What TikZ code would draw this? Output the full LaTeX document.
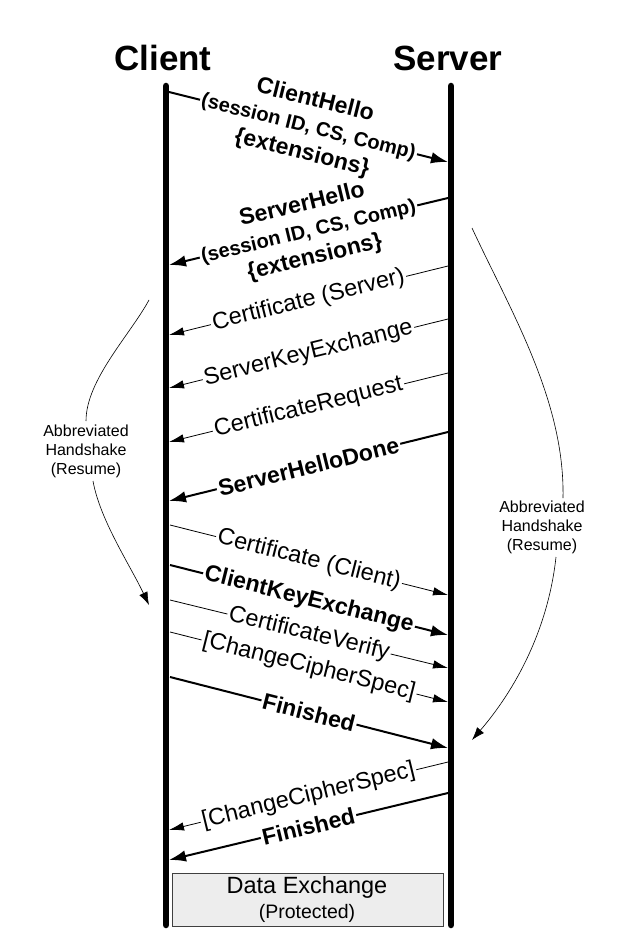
\documentclass[tikz,border=0pt]{standalone}
\usepackage{fontspec}
\setmainfont{Liberation Sans}
\usetikzlibrary{arrows.meta}
\pgfdeclarelayer{lines}
\pgfdeclarelayer{boxes}
\pgfsetlayers{lines,boxes,main}
\newcommand{\midline}[1]{{\fontsize{20}{26.5}\selectfont #1}}
\begin{document}
\begin{tikzpicture}[x=1pt,y=-1pt,
  life/.style={line width=6.5pt,line cap=round},
  thinmsg/.style={line width=0.8pt,-{Latex[length=15pt,width=8.5pt]}},
  boldmsg/.style={line width=2pt,-{Latex[length=17pt,width=11.5pt]}},
  lbl/.style={sloped,midway,inner sep=1.5pt,align=center,font=\fontsize{23.5}{27}\selectfont},
  blbl/.style={sloped,midway,inner sep=1.5pt,align=center,font=\fontsize{23}{27}\selectfont\bfseries},
  note/.style={align=center,inner sep=1pt,font=\fontsize{16}{19}\selectfont},
  curveline/.style={line width=0.6pt},
  curvearrow/.style={line width=0.6pt,-{Latex[length=13pt,width=9pt]}},
  title/.style={font=\fontsize{35}{40}\selectfont\bfseries},
]
\useasboundingbox (0,0) rectangle (628,949);

% lifeline ends
\coordinate (ctop) at (166,86);
\coordinate (cbot) at (166,925);
\coordinate (stop) at (451,86);
\coordinate (sbot) at (451,925);

% message end points
\coordinate (c1) at (169,92);   \coordinate (s1) at (448,162);
\coordinate (s2) at (448,198);  \coordinate (c2) at (169,265);
\coordinate (s3) at (448,266);  \coordinate (c3) at (169,335);
\coordinate (s4) at (448,319);  \coordinate (c4) at (169,388);
\coordinate (s5) at (448,373);  \coordinate (c5) at (169,442);
\coordinate (s6) at (448,432);  \coordinate (c6) at (169,501);
\coordinate (c7) at (170,525);  \coordinate (s7) at (448,595);
\coordinate (c8) at (170,565);  \coordinate (s8) at (448,635);
\coordinate (c9) at (170,600);  \coordinate (s9) at (448,668);
\coordinate (c10) at (170,632); \coordinate (s10) at (448,702);
\coordinate (c11) at (170,677); \coordinate (s11) at (448,748);
\coordinate (s12) at (448,762); \coordinate (c12) at (169,830);
\coordinate (s13) at (448,793); \coordinate (c13) at (169,860);

% message labels (text)
\path (c1) -- node[blbl] (m1) {ClientHello\\\midline{(session ID, CS, Comp)}\\\{extensions\}} (s1);
\path (s2) -- node[blbl] (m2) {ServerHello\\\midline{(session ID, CS, Comp)}\\\{extensions\}} (c2);
\path (s3) -- node[lbl] (m3) {Certificate (Server)} (c3);
\path (s4) -- node[lbl] (m4) {ServerKeyExchange} (c4);
\path (s5) -- node[lbl] (m5) {CertificateRequest} (c5);
\path (s6) -- node[blbl] (m6) {ServerHelloDone} (c6);
\path (c7) -- node[lbl] (m7) {Certificate (Client)} (s7);
\path (c8) -- node[blbl] (m8) {ClientKeyExchange} (s8);
\path (c9) -- node[lbl] (m9) {CertificateVerify} (s9);
\path (c10) -- node[lbl] (m10) {[ChangeCipherSpec]} (s10);
\path (c11) -- node[blbl] (m11) {Finished} (s11);
\path (s12) -- node[lbl] (m12) {[ChangeCipherSpec]} (c12);
\path (s13) -- node[blbl] (m13) {Finished} (c13);

% white backgrounds of labels
\begin{pgfonlayer}{boxes}
\foreach \m in {m1,m2,m3,m4,m5,m6,m7,m8,m9,m10,m11,m12,m13}
  \fill[white] (\m.north west) -- (\m.north east) -- (\m.south east) -- (\m.south west) -- cycle;
\end{pgfonlayer}

% message arrows
\begin{pgfonlayer}{lines}
\draw[boldmsg] (c1) -- (s1);
\draw[boldmsg] (s2) -- (c2);
\draw[thinmsg] (s3) -- (c3);
\draw[thinmsg] (s4) -- (c4);
\draw[thinmsg] (s5) -- (c5);
\draw[boldmsg] (s6) -- (c6);
\draw[thinmsg] (c7) -- (s7);
\draw[boldmsg] (c8) -- (s8);
\draw[thinmsg] (c9) -- (s9);
\draw[thinmsg] (c10) -- (s10);
\draw[boldmsg] (c11) -- (s11);
\draw[thinmsg] (s12) -- (c12);
\draw[boldmsg] (s13) -- (c13);
\end{pgfonlayer}

% data exchange box
\node[draw=black!75,line width=0.8pt,fill=black!7,minimum width=271pt,minimum height=53pt,inner sep=0pt] (data) at (307.5,899.5) {};
\node[font=\fontsize{23.5}{27}\selectfont] (dtxt) at (307,887) {Data Exchange};
\node[font=\fontsize{19.5}{23}\selectfont] (ptxt) at (307,913) {(Protected)};

% lifelines
\draw[life] (ctop) -- (cbot);
\draw[life] (stop) -- (sbot);

% titles
\node[title] (client) at (163,58) {Client};
\node[title] (server) at (448,58) {Server};

% abbreviated handshake notes
\node[note] (lnote) at (86,451) {Abbreviated\\Handshake\\(Resume)};
\coordinate (la) at (149,300);
\coordinate (lb) at (86,421);
\coordinate (lc) at (93,481);
\coordinate (ld) at (149,605);
\draw[curveline] (la) .. controls (130,335) and (86,380) .. (lb);
\draw[curvearrow] (lc) .. controls (100,520) and (130,565) .. (ld);

\node[note] (rnote) at (542,527) {Abbreviated\\Handshake\\(Resume)};
\coordinate (ra) at (472,228);
\coordinate (rb) at (563,498);
\coordinate (rc) at (556,557);
\coordinate (rd) at (472,740);
\draw[curveline] (ra) .. controls (510,310) and (565,400) .. (rb);
\draw[curvearrow] (rc) .. controls (548,630) and (515,690) .. (rd);
\end{tikzpicture}
\end{document}
